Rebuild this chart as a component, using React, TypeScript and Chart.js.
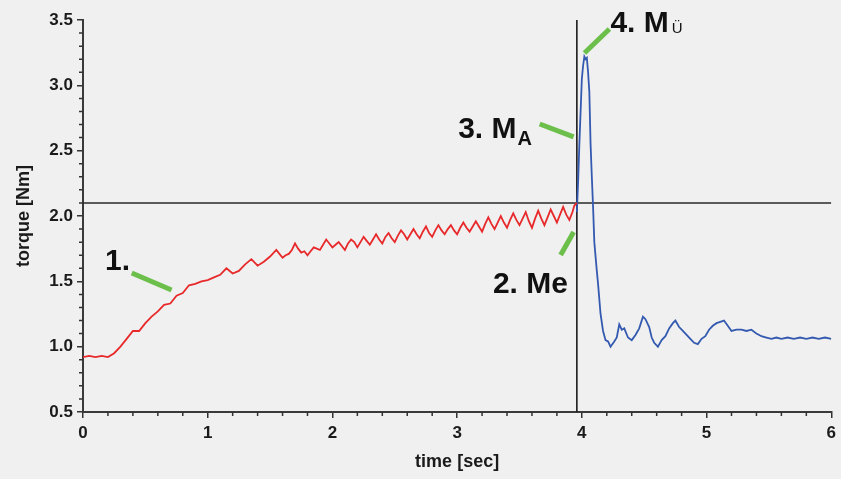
import { useEffect, useRef } from "react";
import { Chart, registerables } from "chart.js";

Chart.register(...registerables);

// ---- data ----
const redTime = [
  0.0, 0.05, 0.1, 0.15, 0.2, 0.25, 0.3, 0.35, 0.4, 0.45, 0.5, 0.55, 0.6, 0.65, 0.7, 0.75, 0.8, 0.85, 0.9, 0.95,
  1.0, 1.05, 1.1, 1.15, 1.2, 1.25, 1.3, 1.35, 1.4, 1.45, 1.5, 1.55,
  1.6, 1.625, 1.65, 1.675, 1.7, 1.725, 1.75, 1.775, 1.8, 1.825, 1.85, 1.875, 1.9, 1.925, 1.95, 1.975,
  2.0, 2.025, 2.05, 2.075, 2.1, 2.125, 2.15, 2.175, 2.2, 2.225, 2.25, 2.275, 2.3, 2.325, 2.35, 2.375,
  2.4, 2.425, 2.45, 2.475, 2.5, 2.525, 2.55, 2.575, 2.6, 2.625, 2.65, 2.675, 2.7, 2.725, 2.75, 2.775,
  2.8, 2.825, 2.85, 2.875, 2.9, 2.925, 2.95, 2.975, 3.0, 3.025, 3.05, 3.075, 3.1, 3.125, 3.15, 3.175,
  3.2, 3.225, 3.25, 3.275, 3.3, 3.325, 3.35, 3.375, 3.4, 3.425, 3.45, 3.475, 3.5, 3.525, 3.55, 3.575,
  3.6, 3.625, 3.65, 3.675, 3.7, 3.725, 3.75, 3.775, 3.8, 3.825, 3.85, 3.875, 3.9, 3.925, 3.94, 3.96,
];
const redTorque = [
  0.92, 0.93, 0.92, 0.93, 0.92, 0.95, 1.0, 1.06, 1.12, 1.12, 1.18, 1.23, 1.27, 1.32, 1.33, 1.39, 1.41, 1.47, 1.48, 1.5,
  1.51, 1.53, 1.55, 1.6, 1.56, 1.58, 1.63, 1.67, 1.62, 1.65, 1.69, 1.74,
  1.68, 1.7, 1.71, 1.74, 1.79, 1.75, 1.72, 1.73, 1.7, 1.73, 1.76, 1.75, 1.74, 1.78, 1.82, 1.79,
  1.76, 1.78, 1.8, 1.77, 1.74, 1.79, 1.82, 1.8, 1.76, 1.8, 1.84, 1.81, 1.78, 1.82, 1.86, 1.82,
  1.79, 1.84, 1.87, 1.83, 1.8, 1.85, 1.89, 1.86, 1.82, 1.86, 1.9, 1.86, 1.83, 1.88, 1.92, 1.87,
  1.84, 1.89, 1.93, 1.89, 1.86, 1.9, 1.93, 1.89, 1.86, 1.91, 1.95, 1.91, 1.88, 1.92, 1.96, 1.92,
  1.88, 1.94, 1.99, 1.94, 1.9, 1.95, 2.0, 1.95, 1.91, 1.97, 2.02, 1.97, 1.93, 1.98, 2.03, 1.96,
  1.91, 1.98, 2.04, 1.98, 1.93, 1.99, 2.05, 2.0, 1.95, 2.01, 2.07, 2.01, 1.97, 2.03, 2.08, 2.1,
];
const blueTime = [
  3.96, 3.97, 3.98, 3.99, 4.0, 4.01, 4.02, 4.03, 4.04, 4.05, 4.06, 4.07, 4.08, 4.09, 4.1, 4.12, 4.13, 4.15, 4.17, 4.19,
  4.21, 4.23, 4.26, 4.28, 4.3, 4.32, 4.34, 4.37, 4.4, 4.43, 4.46, 4.49, 4.51, 4.54, 4.56, 4.58, 4.61, 4.64, 4.67, 4.7,
  4.73, 4.75, 4.78, 4.81, 4.84, 4.87, 4.9, 4.93, 4.96, 4.99, 5.02, 5.05, 5.08, 5.11, 5.14, 5.17, 5.2, 5.24, 5.28, 5.32,
  5.36, 5.4, 5.44, 5.48, 5.52, 5.56, 5.6, 5.65, 5.7, 5.75, 5.8, 5.85, 5.9, 5.95, 6.0,
];
const blueTorque = [
  2.03, 2.26, 2.55, 2.8, 3.05, 3.15, 3.22, 3.2, 3.21, 3.1, 2.95, 2.55, 2.3, 2.07, 1.8, 1.58, 1.48, 1.25, 1.12, 1.05,
  1.04, 1.0, 1.04, 1.07, 1.17, 1.13, 1.14, 1.07, 1.05, 1.09, 1.14, 1.23, 1.21, 1.15, 1.07, 1.03, 1.0, 1.05, 1.08, 1.14,
  1.18, 1.2, 1.15, 1.12, 1.09, 1.06, 1.03, 1.02, 1.06, 1.08, 1.13, 1.16, 1.18, 1.19, 1.2, 1.16, 1.12, 1.13, 1.13, 1.12,
  1.13, 1.1, 1.08, 1.07, 1.06, 1.07, 1.06, 1.07, 1.06, 1.07, 1.06, 1.07, 1.06, 1.07, 1.06,
];
const xTickLabels = ["0", "1", "2", "3", "4", "5", "6"];
const yTickLabels = ["0.5", "1.0", "1.5", "2.0", "2.5", "3.0", "3.5"];
const thresholdTorque = 2.1;
const switchTime = 3.96;

// annotation leader lines: [time, torque] pairs
const leaderFrom = [[0.391, 1.564], [3.83, 1.702], [3.662, 2.704], [4.021, 3.247]];
const leaderTo = [[0.71, 1.434], [3.934, 1.878], [3.934, 2.605], [4.221, 3.431]];
// annotation labels: anchor [time, torque], main text, suffix text
const labelAnchor = [[0.176, 1.587], [3.287, 1.411], [3.008, 2.597], [4.229, 3.408]];
const labelMain = ["1.", "2. Me", "3. M", "4. M"];
const labelSuffix = ["", "", "A", "Ü"];

const FONT = "'Liberation Sans', Arial, Helvetica, sans-serif";
const GREEN = "#6cbf4a";

function pts(xs: number[], ys: number[]) {
  return xs.map((x, i) => ({ x, y: ys[i] }));
}

const minorTicksPlugin = {
  id: "minorTicks",
  afterDraw(chart: any) {
    const { ctx, scales } = chart;
    const xs = scales.x;
    const ys = scales.y;
    ctx.save();
    ctx.strokeStyle = "#333";
    ctx.lineWidth = 1.5;
    ctx.beginPath();
    for (let i = 0; i <= 30; i++) {
      if (i % 5 === 0) continue;
      const py = ys.getPixelForValue(0.5 + i * 0.1);
      ctx.moveTo(ys.right, py);
      ctx.lineTo(ys.right - 4, py);
    }
    for (let i = 0; i <= 30; i++) {
      if (i % 5 === 0) continue;
      const px = xs.getPixelForValue(i * 0.2);
      ctx.moveTo(px, xs.top);
      ctx.lineTo(px, xs.top + 4);
    }
    ctx.stroke();
    ctx.restore();
  },
};

const labelsPlugin = {
  id: "annotLabels",
  afterDatasetsDraw(chart: any) {
    const { ctx, scales } = chart;
    ctx.save();
    ctx.fillStyle = "#111";
    ctx.textBaseline = "alphabetic";
    ctx.textAlign = "left";
    labelAnchor.forEach((a, i) => {
      const px = scales.x.getPixelForValue(a[0]);
      const py = scales.y.getPixelForValue(a[1]);
      ctx.font = `bold 30px ${FONT}`;
      ctx.fillText(labelMain[i], px, py);
      const w = ctx.measureText(labelMain[i]).width;
      const suf = labelSuffix[i];
      if (suf === "A") {
        ctx.font = `bold 20px ${FONT}`;
        ctx.fillText(suf, px + w + 1, py + 7);
      } else if (suf) {
        ctx.font = `15px ${FONT}`;
        ctx.fillText(suf, px + w + 3, py + 1);
      }
    });
    ctx.restore();
  },
};

export default function App() {
  const ref = useRef<HTMLCanvasElement | null>(null);

  useEffect(() => {
    if (!ref.current) return;
    const leaderSets = leaderFrom.map((f, i) => ({
      data: [
        { x: f[0], y: f[1] },
        { x: leaderTo[i][0], y: leaderTo[i][1] },
      ],
      borderColor: GREEN,
      borderWidth: 5,
      pointRadius: 0,
      borderCapStyle: "butt",
    }));
    const chart = new Chart(ref.current, {
      type: "line",
      data: {
        datasets: [
          ...leaderSets,
          {
            data: pts(redTime, redTorque),
            borderColor: "#e8292b",
            borderWidth: 1.8,
            pointRadius: 0,
            tension: 0,
          },
          {
            data: pts(blueTime, blueTorque),
            borderColor: "#3459b0",
            borderWidth: 1.8,
            pointRadius: 0,
            tension: 0,
          },
          {
            data: [
              { x: 0, y: thresholdTorque },
              { x: 6, y: thresholdTorque },
            ],
            borderColor: "#2a2a2a",
            borderWidth: 1.4,
            pointRadius: 0,
          },
          {
            data: [
              { x: switchTime, y: 0.5 },
              { x: switchTime, y: 3.5 },
            ],
            borderColor: "#1a1a1a",
            borderWidth: 1.6,
            pointRadius: 0,
          },
        ] as any,
      },
      options: {
        animation: false,
        responsive: false,
        devicePixelRatio: 1,
        layout: { padding: { top: 20, right: 6, bottom: 0, left: 0 } },
        plugins: { legend: { display: false }, tooltip: { enabled: false } },
        scales: {
          x: {
            type: "linear",
            min: 0,
            max: 6,
            afterFit(scale: any) {
              scale.height = 67;
            },
            border: { display: true, color: "#3a3a3a", width: 2 },
            grid: { drawOnChartArea: false, drawTicks: true, tickLength: 6, tickColor: "#333", lineWidth: 1.5 },
            ticks: {
              stepSize: 1,
              padding: 5,
              color: "#1a1a1a",
              font: { family: FONT, size: 17, weight: "bold" },
              callback: (v: any) => xTickLabels[Math.round(Number(v))] ?? "",
            },
            title: {
              display: true,
              text: "time [sec]",
              color: "#1a1a1a",
              font: { family: FONT, size: 18, weight: "bold" },
              padding: { top: 0, bottom: 6 },
            },
          },
          y: {
            type: "linear",
            min: 0.5,
            max: 3.5,
            afterFit(scale: any) {
              scale.width = 83;
            },
            border: { display: true, color: "#3a3a3a", width: 2 },
            grid: { drawOnChartArea: false, drawTicks: true, tickLength: 6, tickColor: "#333", lineWidth: 1.5 },
            ticks: {
              stepSize: 0.5,
              padding: 4,
              color: "#1a1a1a",
              font: { family: FONT, size: 17, weight: "bold" },
              callback: (v: any) => yTickLabels[Math.round((Number(v) - 0.5) * 2)] ?? "",
            },
            title: {
              display: true,
              text: "torque [Nm]",
              color: "#1a1a1a",
              font: { family: FONT, size: 18, weight: "bold" },
              padding: { top: 13, bottom: 0 },
            },
          },
        },
      } as any,
      plugins: [minorTicksPlugin, labelsPlugin],
    });
    return () => chart.destroy();
  }, []);

  return (
    <div
      style={{
        position: "fixed",
        left: 0,
        top: 0,
        width: 841,
        height: 479,
        background: "#eff0ef",
      }}
    >
      <canvas ref={ref} width={841} height={479} style={{ display: "block" }} />
    </div>
  );
}
